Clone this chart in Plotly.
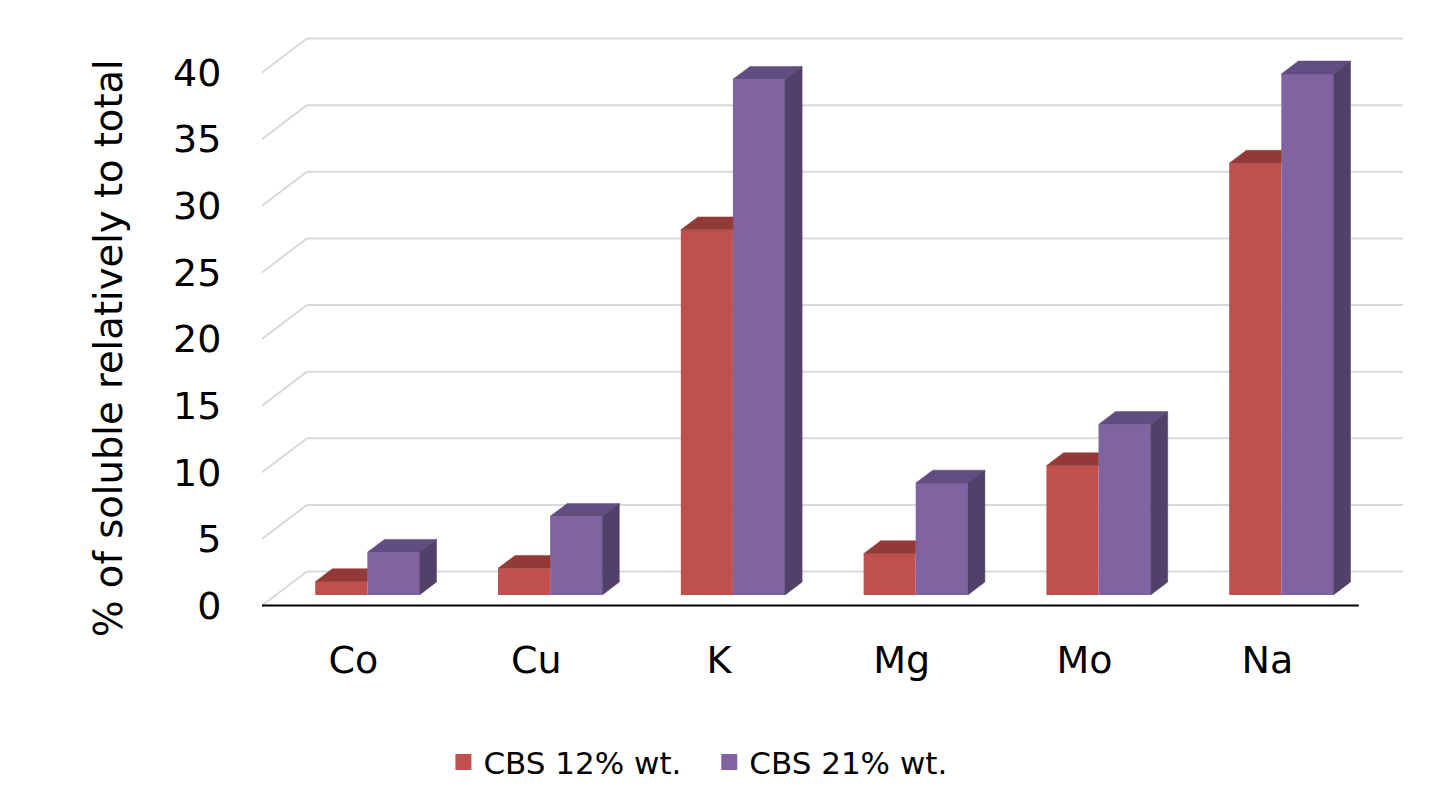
import plotly.graph_objects as go

# ---------------- data ----------------
categories = ["Co", "Cu", "K", "Mg", "Mo", "Na"]
series_names = ["CBS 12% wt.", "CBS 21% wt."]
cbs_12 = [1.0, 2.0, 27.4, 3.1, 9.7, 32.4]
cbs_21 = [3.2, 5.9, 38.7, 8.4, 12.8, 39.1]
y_ticks = [0, 5, 10, 15, 20, 25, 30, 35, 40]
y_title = "% of soluble relatively to total"

# ---------------- style / pseudo-3D geometry ----------------
RED_FRONT, RED_TOP = "#C0504D", "#923A37"
PUR_FRONT, PUR_TOP, PUR_SIDE = "#8064A2", "#624D80", "#51406A"
GRID = dict(color="#D9D9D9", width=2)
FONT = "DejaVu Sans"

DX, DY = 0.246, 2.55        # depth of the chart box (x units, value units)
F1, F2 = 0.31, 0.69         # bar front / back depth fractions
BW = 0.285                  # bar width (category units)
b0 = F1 * DY                # baseline of bar front faces
sx = F1 * DX                # x shift of bar front faces
ddx, ddy = (F2 - F1) * DX, (F2 - F1) * DY

n = len(categories)
xs = list(range(n))
red_x = [i - BW / 2 + sx for i in xs]
pur_x = [i + BW / 2 + sx for i in xs]

fig = go.Figure()

# legend entries (one legend box per series, placed side by side)
for name, col, lg in zip(series_names, [RED_FRONT, PUR_FRONT], ["legend", "legend2"]):
    fig.add_scatter(x=[None], y=[None], mode="markers", name=name, legend=lg,
                    marker=dict(symbol="square", size=16, color=col))

# front faces as real bars
fig.add_bar(x=red_x, y=cbs_12, base=b0, width=BW, marker_color=RED_FRONT,
            marker_line_width=0, name=series_names[0], showlegend=False)
fig.add_bar(x=pur_x, y=cbs_21, base=b0, width=BW, marker_color=PUR_FRONT,
            marker_line_width=0, name=series_names[1], showlegend=False)


def face(xp, yp, col):
    fig.add_scatter(x=xp + [xp[0]], y=yp + [yp[0]], mode="lines", fill="toself",
                    fillcolor=col, line=dict(color=col, width=0.5),
                    hoverinfo="skip", showlegend=False)


for i in xs:
    v1, v2 = cbs_12[i], cbs_21[i]
    x0, x1 = red_x[i] - BW / 2, red_x[i] + BW / 2
    t = b0 + v1
    face([x0, x1, x1, x0 + ddx], [t, t, t + ddy, t + ddy], RED_TOP)
    p0, p1 = pur_x[i] - BW / 2, pur_x[i] + BW / 2
    tp = b0 + v2
    face([p0, p1, p1 + ddx, p0 + ddx], [tp, tp, tp + ddy, tp + ddy], PUR_TOP)
    face([p1, p1 + ddx, p1 + ddx, p1], [b0, b0 + ddy, tp + ddy, tp], PUR_SIDE)

# walls: back gridlines, left wall diagonals, floor front edge
for v in y_ticks:
    fig.add_shape(type="line", x0=-0.5 + DX, x1=n - 0.5 + DX, y0=v + DY, y1=v + DY,
                  line=GRID, layer="below")
    fig.add_shape(type="line", x0=-0.5, x1=-0.5 + DX, y0=v, y1=v + DY,
                  line=GRID, layer="below")
fig.add_shape(type="line", x0=-0.5, x1=n - 0.5, y0=0, y1=0,
              line=dict(color="black", width=2), layer="below")

# value-axis title
fig.add_annotation(text=y_title, textangle=-90, xref="paper", yref="paper",
                   x=-0.135, y=0.4655, xanchor="center", yanchor="middle",
                   showarrow=False, font=dict(size=38.5, family=FONT, color="black"))

legend_common = dict(orientation="h", y=-0.231, xanchor="left", yanchor="middle",
                     font=dict(size=31), bgcolor="rgba(0,0,0,0)")

fig.update_layout(
    template="none",
    width=1419, height=776,
    margin=dict(l=254, r=24, t=22, b=159, autoexpand=False),
    plot_bgcolor="white", paper_bgcolor="white",
    barmode="overlay",
    font=dict(family=FONT, color="black"),
    xaxis=dict(range=[-0.5, 5.742], tickvals=xs, ticktext=categories,
               showgrid=False, zeroline=False, showline=False,
               ticks="outside", ticklen=1, tickcolor="rgba(0,0,0,0)",
               tickfont=dict(size=38)),
    yaxis=dict(range=[-1.4634, 43.19], tickvals=y_ticks,
               showgrid=False, zeroline=False, showline=False,
               ticks="outside", ticklen=32, tickcolor="rgba(0,0,0,0)",
               tickfont=dict(size=38)),
    legend=dict(x=0.159, **legend_common),
    legend2=dict(x=0.392, **legend_common),
    showlegend=True,
)

fig.write_html("out.html")
